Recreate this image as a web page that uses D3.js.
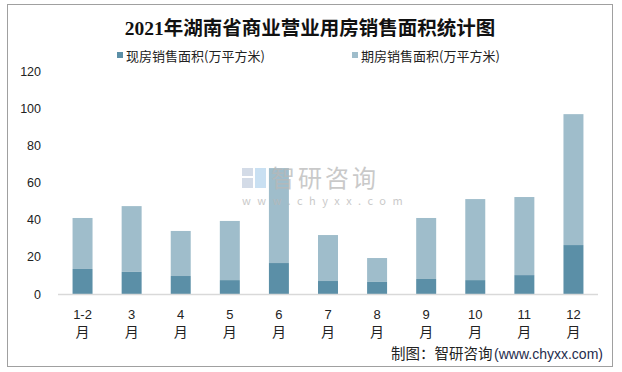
<!DOCTYPE html>
<html lang="zh">
<head>
<meta charset="utf-8">
<title>2021年湖南省商业营业用房销售面积统计图</title>
<script src="https://d3js.org/d3.v7.min.js"></script>
<style>
  body { margin: 0; background: #fff; }
  text { font-family: "Noto Sans CJK SC", "Liberation Sans", sans-serif; }
</style>
</head>
<body>
<script>
// 数据
var months = ["1-2", "3", "4", "5", "6", "7", "8", "9", "10", "11", "12"];
var spot = [13.5, 11.9, 9.7, 7.5, 16.7, 7.0, 6.5, 8.1, 7.5, 10.2, 26.4];      // 现房
var futures = [27.5, 35.5, 24.3, 31.9, 51.2, 24.8, 12.9, 32.9, 43.7, 42.1, 70.6]; // 期房
var seriesNames = ["现房销售面积(万平方米)", "期房销售面积(万平方米)"];
var yTicks = [0, 20, 40, 60, 80, 100, 120];

var width = 622, height = 372;
var colors = ["#5b8fa7", "#9fbdcb"];

var svg = d3.select("body").append("svg")
    .attr("width", width)
    .attr("height", height);

// 外框
svg.append("rect")
    .attr("x", 7.5).attr("y", 4.5)
    .attr("width", 605).attr("height", 362)
    .attr("fill", "#fff")
    .attr("stroke", "#a0a0a0")
    .attr("stroke-width", 1);

// 标题
svg.append("text")
    .attr("x", 310).attr("y", 35)
    .attr("text-anchor", "middle")
    .attr("font-size", "19.5px")
    .attr("font-weight", "bold")
    .attr("fill", "#111")
    .style("font-family", "'Liberation Serif', 'Noto Sans CJK SC', serif")
    .text("2021年湖南省商业营业用房销售面积统计图");

// 图例
var legendX = [117, 352];
seriesNames.forEach(function(name, i) {
    svg.append("rect")
        .attr("x", legendX[i]).attr("y", 52)
        .attr("width", 6).attr("height", 6)
        .attr("fill", colors[i]);
    svg.append("text")
        .attr("x", legendX[i] + 9).attr("y", 60.5)
        .attr("font-size", "13px")
        .attr("fill", "#222")
        .text(name);
});

// 比例尺
var x = d3.scaleBand()
    .domain(months)
    .range([58, 598])
    .paddingInner(0.593)
    .paddingOuter(0.2965);

var y = d3.scaleLinear()
    .domain([0, 120])
    .range([294, 71.5]);

// 堆叠数据
var table = months.map(function(m, i) {
    return { month: m, spot: spot[i], futures: futures[i] };
});
var stack = d3.stack().keys(["spot", "futures"])(table);

svg.append("g")
    .selectAll("g")
    .data(stack)
    .enter().append("g")
    .attr("fill", function(d, i) { return colors[i]; })
    .selectAll("rect")
    .data(function(d) { return d; })
    .enter().append("rect")
    .attr("x", function(d) { return x(d.data.month); })
    .attr("y", function(d) { return y(d[1]); })
    .attr("width", x.bandwidth())
    .attr("height", function(d) { return y(d[0]) - y(d[1]); });

// 水印（半透明，压在柱子上面）
var wm = svg.append("g").attr("opacity", 0.75);
wm.append("rect").attr("x", 242).attr("y", 168).attr("width", 11).attr("height", 8).attr("fill", "#c5cfe0");
wm.append("rect").attr("x", 242).attr("y", 178).attr("width", 11).attr("height", 10).attr("fill", "#c5cfe0");
wm.append("rect").attr("x", 255).attr("y", 168).attr("width", 11).attr("height", 20).attr("fill", "#b8d6ee");
wm.append("text")
    .attr("x", 271).attr("y", 187)
    .attr("font-size", "24px")
    .attr("fill", "#b8b8b8")
    .style("letter-spacing", "3px")
    .text("智研咨询");
wm.append("text")
    .attr("x", 242).attr("y", 205)
    .attr("font-size", "11px")
    .attr("fill", "#b8b8b8")
    .style("letter-spacing", "6.5px")
    .text("www.chyxx.com");

// y 轴
var yAxis = svg.append("g")
    .attr("transform", "translate(44,0)")
    .call(d3.axisLeft(y).tickValues(yTicks).tickSize(0).tickPadding(3));
yAxis.select(".domain").remove();
yAxis.selectAll("text")
    .attr("font-size", "12.5px")
    .attr("fill", "#222")
    .style("font-family", "'Liberation Sans', sans-serif");

// x 轴线
svg.append("line")
    .attr("x1", 58).attr("x2", 598)
    .attr("y1", 294.5).attr("y2", 294.5)
    .attr("stroke", "#d9d9d9")
    .attr("stroke-width", 1.3);

// x 轴标签
var xl = svg.append("g").selectAll("text")
    .data(months)
    .enter().append("text")
    .attr("text-anchor", "middle")
    .attr("font-size", "13px")
    .attr("fill", "#222");
xl.append("tspan")
    .attr("x", function(d) { return x(d) + x.bandwidth() / 2; })
    .attr("y", 319)
    .style("font-family", "'Liberation Sans', sans-serif")
    .text(function(d) { return d; });
xl.append("tspan")
    .attr("x", function(d) { return x(d) + x.bandwidth() / 2; })
    .attr("y", 337)
    .attr("font-size", "14px")
    .text("月");

// 来源
var src = svg.append("text")
    .attr("x", 391).attr("y", 359)
    .attr("font-size", "14.5px")
    .attr("fill", "#222");
src.append("tspan").text("制图：智研咨询");
src.append("tspan")
    .attr("x", 494)
    .attr("font-size", "14px")
    .attr("fill", "#1f2d4d")
    .attr("textLength", 109)
    .attr("lengthAdjust", "spacingAndGlyphs")
    .style("font-family", "'Liberation Sans', sans-serif")
    .text("(www.chyxx.com)");
</script>
</body>
</html>
